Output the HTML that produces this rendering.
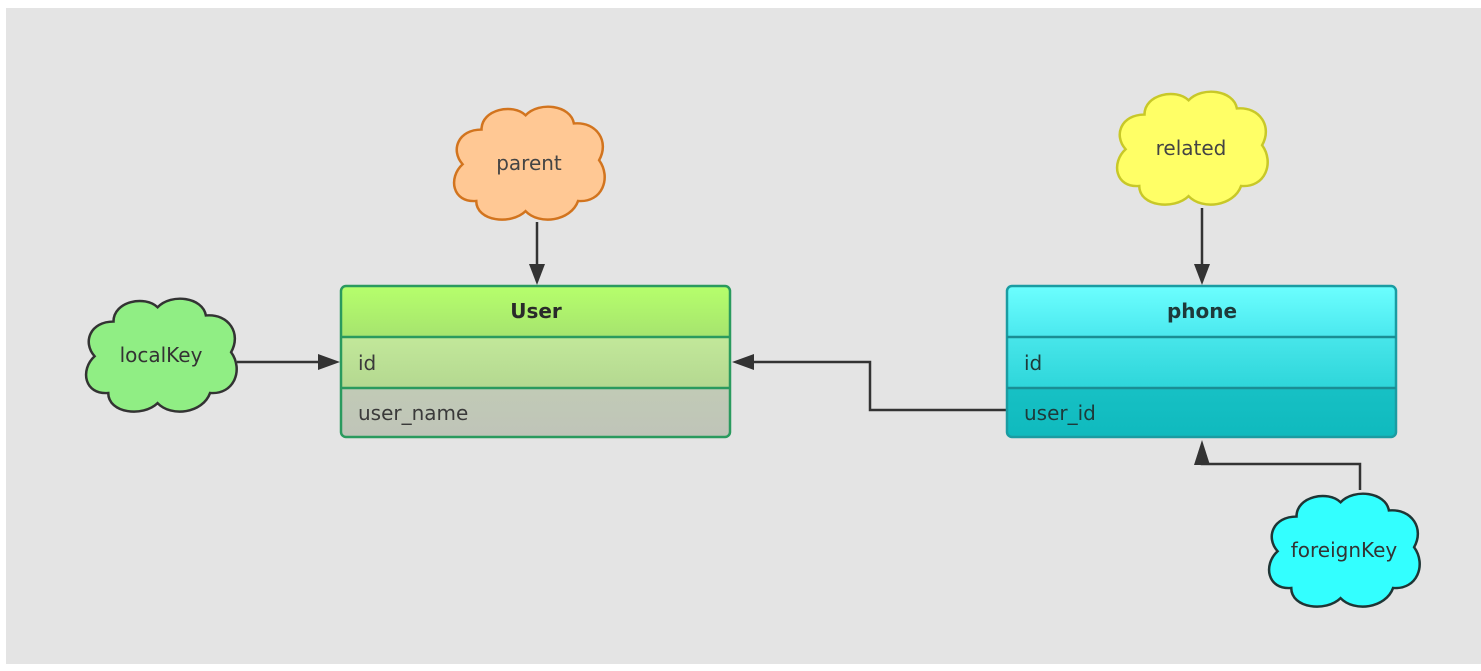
<!DOCTYPE html>
<html><head><meta charset="utf-8"><style>
html,body{margin:0;padding:0;background:#fff;}
body{width:1481px;height:671px;position:relative;overflow:hidden;}
svg{position:absolute;left:0;top:0;}
text{font-family:"DejaVu Sans","Liberation Sans",sans-serif;}
</style></head><body>
<svg width="1481" height="671" viewBox="0 0 1481 671">
<defs>
<path id="cloud" d="M30,28 C30,8 60,2 72,14 C85,0 115,4 118,22 C140,20 152,40 142,58 C154,75 145,100 122,98 C115,118 85,122 72,108 C58,122 25,118 25,98 C2,100 -2,75 12,62 C0,48 8,28 30,28 Z"/>
<linearGradient id="uh" x1="0" y1="0" x2="0" y2="1"><stop offset="0" stop-color="#b6ff6c"/><stop offset="1" stop-color="#a6e46e"/></linearGradient>
<linearGradient id="u1" x1="0" y1="0" x2="0" y2="1"><stop offset="0" stop-color="#c2e89a"/><stop offset="1" stop-color="#b4d890"/></linearGradient>
<linearGradient id="u2" x1="0" y1="0" x2="0" y2="1"><stop offset="0" stop-color="#c6d8b2"/><stop offset="1" stop-color="#bfc4b8"/></linearGradient>
<linearGradient id="ph" x1="0" y1="0" x2="0" y2="1"><stop offset="0" stop-color="#6cffff"/><stop offset="1" stop-color="#4ae8ee"/></linearGradient>
<linearGradient id="p1" x1="0" y1="0" x2="0" y2="1"><stop offset="0" stop-color="#48e6ea"/><stop offset="1" stop-color="#2ed6da"/></linearGradient>
<linearGradient id="p2" x1="0" y1="0" x2="0" y2="1"><stop offset="0" stop-color="#28ced2"/><stop offset="1" stop-color="#0fbabe"/></linearGradient>
</defs>
<rect x="6" y="8" width="1475" height="656" fill="#e4e4e4"/>

<g stroke="#333" stroke-width="2.5" fill="none">
<line x1="537" y1="222" x2="537" y2="266"/>
<line x1="1202" y1="208" x2="1202" y2="266"/>
<line x1="237" y1="362" x2="320" y2="362"/>
<polyline points="1007,410 870,410 870,362 752,362"/>
<polyline points="1360,490 1360,464 1202,464 1202,460"/>
</g>
<g fill="#333">
<polygon points="529,264 545,264 537,285"/>
<polygon points="1194,264 1210,264 1202,285"/>
<polygon points="318,354 318,370 340,362"/>
<polygon points="754,354 754,370 732,362"/>
<polygon points="1194,465 1210,465 1202,440"/>
</g>

<use href="#cloud" transform="translate(450,101) scale(1.05,1.02)" fill="#ffc894" stroke="#d2741e" stroke-width="2.4"/>
<text x="529" y="170" font-size="20" text-anchor="middle" fill="#444">parent</text>
<use href="#cloud" transform="translate(1113,86) scale(1.05,1.02)" fill="#ffff66" stroke="#c8c828" stroke-width="2.4"/>
<text x="1191" y="155" font-size="20" text-anchor="middle" fill="#444">related</text>
<use href="#cloud" transform="translate(82,293) scale(1.05,1.02)" fill="#90ee84" stroke="#333" stroke-width="2.4"/>
<text x="161" y="362" font-size="20" text-anchor="middle" fill="#333">localKey</text>
<use href="#cloud" transform="translate(1265,488) scale(1.05,1.02)" fill="#33ffff" stroke="#1f3535" stroke-width="2.4"/>
<text x="1344" y="557" font-size="20" text-anchor="middle" fill="#333">foreignKey</text>

<g>
<rect x="341" y="286" width="389" height="151" rx="5" fill="url(#u2)"/>
<path d="M346,286 H725 Q730,286 730,291 V337 H341 V291 Q341,286 346,286 Z" fill="url(#uh)"/>
<rect x="341" y="337" width="389" height="51" fill="url(#u1)"/>
<rect x="341" y="286" width="389" height="151" rx="5" fill="none" stroke="#2a9a5e" stroke-width="2.5"/>
<line x1="341" y1="337" x2="730" y2="337" stroke="#2a9a5e" stroke-width="2.5"/>
<line x1="341" y1="388" x2="730" y2="388" stroke="#2a9a5e" stroke-width="2.5"/>
<text x="536" y="318" font-size="20" font-weight="bold" text-anchor="middle" fill="#2a2a2a">User</text>
<text x="358" y="370" font-size="20" fill="#3a3a3a">id</text>
<text x="358" y="420" font-size="20" fill="#3a3a3a">user_name</text>
</g>

<g>
<rect x="1007" y="286" width="389" height="151" rx="5" fill="url(#p2)"/>
<path d="M1012,286 H1391 Q1396,286 1396,291 V337 H1007 V291 Q1007,286 1012,286 Z" fill="url(#ph)"/>
<rect x="1007" y="337" width="389" height="51" fill="url(#p1)"/>
<rect x="1007" y="286" width="389" height="151" rx="5" fill="none" stroke="#1a9ca2" stroke-width="2.5"/>
<line x1="1007" y1="337" x2="1396" y2="337" stroke="#1a8e94" stroke-width="2.5"/>
<line x1="1007" y1="388" x2="1396" y2="388" stroke="#1a8e94" stroke-width="2.5"/>
<text x="1202" y="318" font-size="20" font-weight="bold" text-anchor="middle" fill="#1e3a3a">phone</text>
<text x="1024" y="370" font-size="20" fill="#1e3a3a">id</text>
<text x="1024" y="420" font-size="20" fill="#1e3a3a">user_id</text>
</g>
</svg>
</body></html>
